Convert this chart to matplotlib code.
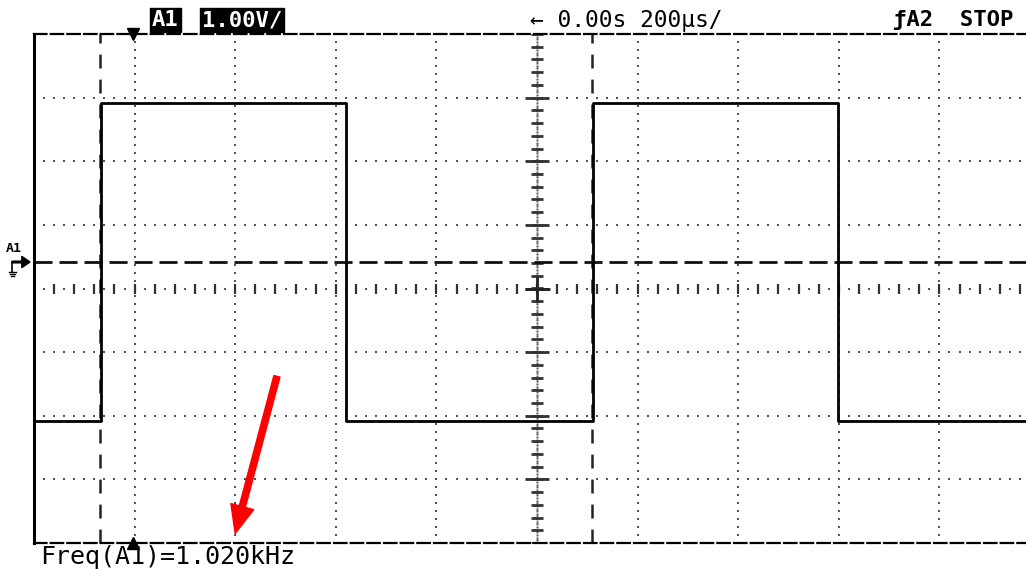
import matplotlib
matplotlib.use("Agg")
import matplotlib.pyplot as plt
import numpy as np

plt.rcParams['lines.scale_dashes'] = False

# scope settings
time_div_us = 200.0        # 200 us/div, 10 divisions
volt_div = 1.00            # 1.00 V/div, 8 divisions
ground_offset_div = 0.42   # A1 ground marker above screen centre

# square wave (us, V)
edge_times = [-867, -380, 111, 598]
level_low = -2.5
level_high = 2.5
cursor_times = [-869, 109]
trig_marker_time = -803

header_ch = "A1"
header_scale = "1.00V/"
header_time = "\u2190 0.00s 200\u00b5s/"
header_trig = "\u0192A2  STOP"
freq_text = "Freq(A1)=1.020kHz"

fig = plt.figure(figsize=(10.26, 5.69), dpi=100)
ax = fig.add_axes([34/1026, 26/569, 1006/1026, 509/569])
xmin, xmax = -5*time_div_us, 5*time_div_us
ymin = (-4 - ground_offset_div)*volt_div
ymax = (4 - ground_offset_div)*volt_div
ycen = -ground_offset_div*volt_div
ax.set_xlim(xmin, xmax)
ax.set_ylim(ymin, ymax)
ax.set_xticks([])
ax.set_yticks([])
ax.spines['right'].set_visible(False)
ax.spines['left'].set_linewidth(2.2)
for s in ['top', 'bottom']:
    ax.spines[s].set_linestyle((0, (9, 3)))
    ax.spines[s].set_linewidth(1.6)

dot_c = '#555555'
# dotted graticule
for k in [-4, -3, -2, -1, 1, 2, 3, 4]:
    xg = k*time_div_us
    ys = np.arange(ymin, ymax, volt_div/8)
    ax.plot(np.full(ys.shape, xg), ys, 's', ms=1.6, color=dot_c, mew=0)
for k in [-3, -2, -1, 1, 2, 3]:
    yg = ycen + k*volt_div
    xs = np.arange(xmin, xmax, time_div_us/10)
    ax.plot(xs, np.full(xs.shape, yg), 's', ms=1.6, color=dot_c, mew=0)

# centre horizontal axis: dots + ticks
xs = np.arange(xmin + 20, xmax, 40.0)
ax.plot(xs, np.full(xs.shape, ycen), 's', ms=1.8, color=dot_c, mew=0)
xt = np.arange(xmin + 40, xmax, 40.0)
ax.plot(xt, np.full(xt.shape, ycen), '|', ms=7, mew=1.6, color='#333333')
# centre vertical axis: dense dots + ticks
ys = np.arange(ymin, ymax, volt_div/24)
ax.plot(np.zeros(ys.shape), ys, 's', ms=1.4, color=dot_c, mew=0)
yt = ycen + np.arange(-4, 4.01, 0.2)*volt_div
ax.plot(np.zeros(yt.shape), yt, '_', ms=8, mew=2, color='#333333')
ym = ycen + np.arange(-3, 3.01, 1)*volt_div
ax.plot(np.zeros(ym.shape), ym, '_', ms=17, mew=2, color='#333333')
ax.plot([0], [ycen], '+', ms=18, mew=2, color='#222222')

# cursors / ground
for t in cursor_times:
    ax.axvline(t, color='#222222', lw=1.8, ls=(0, (10, 8)))
ax.axhline(0, color='#111111', lw=2.0, ls=(0, (13, 5)))

# trace
tx = np.concatenate([[xmin], np.repeat(edge_times, 2), [xmax]])
lv = [level_low, level_high, level_low, level_high, level_low]
ty = np.repeat(lv, 2)
ax.plot(tx, ty, color='black', lw=2.0, zorder=5)

# trigger position markers
ax.plot([trig_marker_time], [ymax], 'v', ms=9, color='black', clip_on=False, zorder=6)
ax.plot([trig_marker_time], [ymin], '^', ms=9, color='black', clip_on=False, zorder=6)

# red arrow
ax.annotate('', xy=(-600, -4.27), xytext=(-517, -1.80),
            arrowprops=dict(width=4.5, headwidth=17, headlength=20,
                            color='#ff0000', shrink=0),
            annotation_clip=False, zorder=8)

# header texts
mono = 'DejaVu Sans Mono'
fig.text(152/1026, 1 - 20/569, header_ch, family=mono, weight='bold', fontsize=16,
         color='white', va='center', ha='left',
         bbox=dict(boxstyle='square,pad=0.1', fc='black', ec='black'))
fig.text(202/1026, 1 - 20/569, header_scale, family=mono, weight='bold', fontsize=16,
         color='white', va='center', ha='left',
         bbox=dict(boxstyle='square,pad=0.1', fc='black', ec='black'))
fig.text(530/1026, 1 - 20/569, header_time, family=mono, fontsize=16.5,
         color='black', va='center', ha='left')
fig.text(893/1026, 1 - 20/569, header_trig, family=mono, weight='bold', fontsize=16,
         color='black', va='center', ha='left')
fig.text(40/1026, 1 - 557/569, freq_text, family=mono, fontsize=18,
         color='black', va='center', ha='left')

# channel ground marker on the left
fig.text(6/1026, 1 - 248/569, 'A1', family=mono, fontsize=9.5, weight='bold',
         va='center', ha='left')
fig.patches.append(matplotlib.patches.FancyArrow(
    12/1026, 1 - 262/569, 18/1026, 0, width=0.003, head_width=0.02,
    head_length=0.008, color='black', transform=fig.transFigure, figure=fig,
    length_includes_head=True))
fig.lines.append(matplotlib.lines.Line2D([12/1026, 12/1026], [1 - 262/569, 1 - 272/569],
                                         color='black', lw=1.2, transform=fig.transFigure))
for i, w in enumerate([7, 5, 3]):
    y0 = 1 - (272 + 2*i)/569
    fig.lines.append(matplotlib.lines.Line2D([(12 - w/2)/1026, (12 + w/2)/1026], [y0, y0],
                                             color='black', lw=1, transform=fig.transFigure))

fig.savefig('out.png', dpi=100, facecolor='white')
